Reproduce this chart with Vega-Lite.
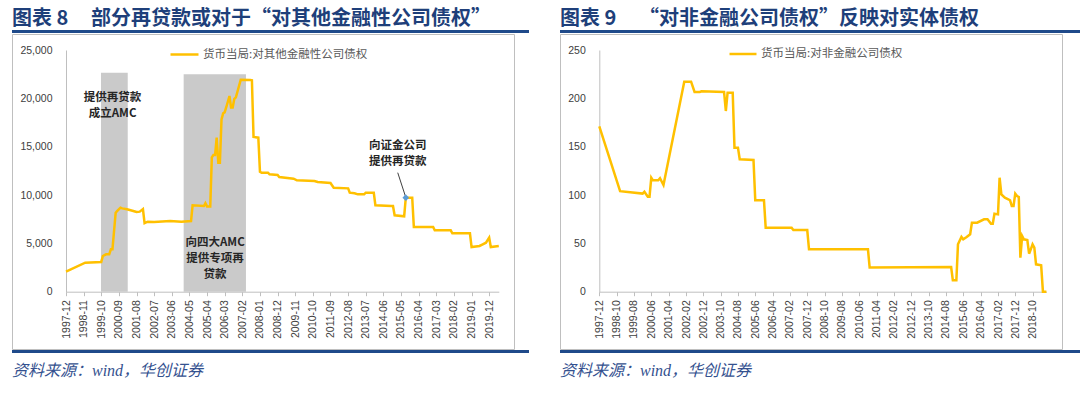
{
  "$schema": "https://vega.github.io/schema/vega-lite/v6.json",
  "background": "white",
  "padding": {"left": 11, "top": 9, "right": 0, "bottom": 0},
  "spacing": 30,
  "resolve": {"scale": {"color": "independent"}, "legend": {"color": "independent"}},
  "config": {
    "font": "Noto Sans CJK SC",
    "axis": {"labelFont": "Liberation Sans", "labelFontSize": 10.5, "labelColor": "#404040", "domainColor": "#BFBFBF", "tickColor": "#BFBFBF", "grid": false, "title": null}
  },
  "datasets": {
    "left": [
      {"d": "1997-12-01", "v": 2070}, {"d": "1998-12-01", "v": 3000}, {"d": "1999-10-01", "v": 3080},
      {"d": "1999-11-01", "v": 3690}, {"d": "2000-01-01", "v": 3870}, {"d": "2000-03-01", "v": 3870},
      {"d": "2000-04-01", "v": 4380}, {"d": "2000-05-01", "v": 4380}, {"d": "2000-07-01", "v": 8170},
      {"d": "2000-08-01", "v": 8350}, {"d": "2000-10-01", "v": 8690}, {"d": "2000-11-01", "v": 8620},
      {"d": "2001-02-01", "v": 8520}, {"d": "2001-06-01", "v": 8350}, {"d": "2001-08-01", "v": 8240},
      {"d": "2001-10-01", "v": 8280}, {"d": "2001-12-01", "v": 8550}, {"d": "2002-01-01", "v": 7100},
      {"d": "2002-03-01", "v": 7240}, {"d": "2002-07-01", "v": 7210}, {"d": "2003-05-01", "v": 7310},
      {"d": "2003-12-01", "v": 7240}, {"d": "2004-06-01", "v": 7310}, {"d": "2004-07-01", "v": 8930},
      {"d": "2005-02-01", "v": 8860}, {"d": "2005-03-01", "v": 9150}, {"d": "2005-04-01", "v": 8820},
      {"d": "2005-06-01", "v": 8820}, {"d": "2005-07-01", "v": 13900}, {"d": "2005-08-01", "v": 14140},
      {"d": "2005-09-01", "v": 14140}, {"d": "2005-10-01", "v": 15930}, {"d": "2005-11-01", "v": 13340},
      {"d": "2005-12-01", "v": 13340}, {"d": "2006-01-01", "v": 17830}, {"d": "2006-02-01", "v": 18450},
      {"d": "2006-03-01", "v": 18550}, {"d": "2006-04-01", "v": 19080}, {"d": "2006-06-01", "v": 20240},
      {"d": "2006-07-01", "v": 19050}, {"d": "2006-08-01", "v": 19050}, {"d": "2006-09-01", "v": 19950},
      {"d": "2006-10-01", "v": 20100}, {"d": "2007-01-01", "v": 21920}, {"d": "2007-07-01", "v": 21900},
      {"d": "2007-08-01", "v": 21870}, {"d": "2007-09-01", "v": 16000}, {"d": "2007-12-01", "v": 15930},
      {"d": "2008-01-01", "v": 12400}, {"d": "2008-02-01", "v": 12310}, {"d": "2008-06-01", "v": 12310},
      {"d": "2008-07-01", "v": 12140}, {"d": "2008-12-01", "v": 12070}, {"d": "2009-01-01", "v": 11860},
      {"d": "2009-10-01", "v": 11690}, {"d": "2009-12-01", "v": 11520}, {"d": "2010-11-01", "v": 11450},
      {"d": "2011-01-01", "v": 11350}, {"d": "2011-09-01", "v": 11240}, {"d": "2011-11-01", "v": 10760},
      {"d": "2012-08-01", "v": 10690}, {"d": "2012-09-01", "v": 10240}, {"d": "2012-12-01", "v": 10180},
      {"d": "2013-02-01", "v": 10070}, {"d": "2013-06-01", "v": 10070}, {"d": "2013-07-01", "v": 10240},
      {"d": "2013-12-01", "v": 10240}, {"d": "2014-01-01", "v": 8930}, {"d": "2014-11-01", "v": 8860},
      {"d": "2014-12-01", "v": 8860}, {"d": "2015-01-01", "v": 7900}, {"d": "2015-07-01", "v": 7800},
      {"d": "2015-08-01", "v": 9730}, {"d": "2015-12-01", "v": 9730}, {"d": "2016-01-01", "v": 6690},
      {"d": "2017-01-01", "v": 6690}, {"d": "2017-02-01", "v": 6350}, {"d": "2017-12-01", "v": 6350},
      {"d": "2018-01-01", "v": 6040}, {"d": "2018-12-01", "v": 6040}, {"d": "2019-01-01", "v": 4620},
      {"d": "2019-06-01", "v": 4730}, {"d": "2019-08-01", "v": 4900}, {"d": "2019-10-01", "v": 5070},
      {"d": "2019-12-01", "v": 5590}, {"d": "2020-01-01", "v": 4620}, {"d": "2020-06-01", "v": 4730}
    ],
    "right": [
      {"d": "1997-12-01", "v": 171}, {"d": "1998-12-01", "v": 104}, {"d": "2000-01-01", "v": 101.5},
      {"d": "2000-02-01", "v": 103.4}, {"d": "2000-04-01", "v": 98.3}, {"d": "2000-05-01", "v": 98.3},
      {"d": "2000-06-01", "v": 117.9}, {"d": "2000-07-01", "v": 115.2}, {"d": "2000-10-01", "v": 115.2},
      {"d": "2000-11-01", "v": 117.3}, {"d": "2001-01-01", "v": 110.4}, {"d": "2002-01-01", "v": 217.2},
      {"d": "2002-05-01", "v": 217.2}, {"d": "2002-07-01", "v": 206.6}, {"d": "2002-10-01", "v": 206.6},
      {"d": "2002-11-01", "v": 207.3}, {"d": "2003-12-01", "v": 206.6}, {"d": "2004-01-01", "v": 186.9},
      {"d": "2004-02-01", "v": 205.8}, {"d": "2004-05-01", "v": 205.8}, {"d": "2004-06-01", "v": 149},
      {"d": "2004-08-01", "v": 149}, {"d": "2004-09-01", "v": 137}, {"d": "2005-05-01", "v": 136.2},
      {"d": "2005-06-01", "v": 94.5}, {"d": "2005-11-01", "v": 94.5}, {"d": "2005-12-01", "v": 66.2},
      {"d": "2007-03-01", "v": 66.2}, {"d": "2007-04-01", "v": 63.8}, {"d": "2007-12-01", "v": 63.8},
      {"d": "2008-01-01", "v": 43.9}, {"d": "2010-11-01", "v": 43.9}, {"d": "2010-12-01", "v": 25},
      {"d": "2014-11-01", "v": 25.5}, {"d": "2014-12-01", "v": 11.8}, {"d": "2015-02-01", "v": 11.8},
      {"d": "2015-03-01", "v": 49}, {"d": "2015-05-01", "v": 56.6}, {"d": "2015-06-01", "v": 54.2},
      {"d": "2015-08-01", "v": 56.6}, {"d": "2015-10-01", "v": 59.4}, {"d": "2015-11-01", "v": 71.4},
      {"d": "2016-02-01", "v": 71.4}, {"d": "2016-06-01", "v": 74.9}, {"d": "2016-08-01", "v": 74.9},
      {"d": "2016-10-01", "v": 70.3}, {"d": "2016-11-01", "v": 70.3}, {"d": "2016-12-01", "v": 80.7},
      {"d": "2017-02-01", "v": 80}, {"d": "2017-03-01", "v": 117.9}, {"d": "2017-04-01", "v": 100.7},
      {"d": "2017-06-01", "v": 97.2}, {"d": "2017-08-01", "v": 95.6}, {"d": "2017-09-01", "v": 94.5},
      {"d": "2017-10-01", "v": 88.6}, {"d": "2017-11-01", "v": 88.6}, {"d": "2017-12-01", "v": 101.4},
      {"d": "2018-01-01", "v": 99}, {"d": "2018-02-01", "v": 97.9}, {"d": "2018-03-01", "v": 35.2},
      {"d": "2018-04-01", "v": 57.6}, {"d": "2018-05-01", "v": 54.2}, {"d": "2018-07-01", "v": 53.5},
      {"d": "2018-08-01", "v": 39.3}, {"d": "2018-09-01", "v": 44}, {"d": "2018-10-01", "v": 49},
      {"d": "2018-11-01", "v": 45.5}, {"d": "2018-12-01", "v": 28.3}, {"d": "2019-03-01", "v": 27.3},
      {"d": "2019-04-01", "v": 0}, {"d": "2019-06-01", "v": 0}
    ]
  },
  "hconcat": [
    {
      "spacing": 0,
      "resolve": {"scale": {"color": "independent"}, "legend": {"color": "independent"}},
      "vconcat": [
        {
          "width": 517, "height": 3,
          "view": {"fill": "#1F4A8A", "stroke": null},
          "data": {"values": []},
          "mark": "point",
          "title": {"text": "图表 8\u00a0\u00a0\u00a0\u00a0\u00a0部分再贷款或对于“对其他金融性公司债权”", "anchor": "start", "frame": "group", "offset": 1, "font": "Noto Sans CJK SC", "fontSize": 20, "fontWeight": "bold", "color": "#1E3F7A"}
        },
        {
          "width": 502, "height": 315,
          "view": {"stroke": "#BFBFBF", "strokeWidth": 1},
          "encoding": {
            "x": {"field": "d", "type": "temporal",
              "scale": {"domain": [{"year": 1997, "month": 12, "date": 1}, {"year": 2020, "month": 6, "date": 1}], "range": [54, 486.8]},
              "axis": {"orient": "bottom", "offset": -57.3, "format": "%Y-%m", "labelAngle": 270, "labelAlign": "right", "labelBaseline": "middle", "labelPadding": 4, "tickSize": 4, "labelOverlap": false, "labelFlush": false,
                "values": [{"year": 1997, "month": 12, "date": 1}, {"year": 1998, "month": 11, "date": 1}, {"year": 1999, "month": 10, "date": 1}, {"year": 2000, "month": 9, "date": 1}, {"year": 2001, "month": 8, "date": 1}, {"year": 2002, "month": 7, "date": 1}, {"year": 2003, "month": 6, "date": 1}, {"year": 2004, "month": 5, "date": 1}, {"year": 2005, "month": 4, "date": 1}, {"year": 2006, "month": 3, "date": 1}, {"year": 2007, "month": 2, "date": 1}, {"year": 2008, "month": 1, "date": 1}, {"year": 2008, "month": 12, "date": 1}, {"year": 2009, "month": 11, "date": 1}, {"year": 2010, "month": 10, "date": 1}, {"year": 2011, "month": 9, "date": 1}, {"year": 2012, "month": 8, "date": 1}, {"year": 2013, "month": 7, "date": 1}, {"year": 2014, "month": 6, "date": 1}, {"year": 2015, "month": 5, "date": 1}, {"year": 2016, "month": 4, "date": 1}, {"year": 2017, "month": 3, "date": 1}, {"year": 2018, "month": 2, "date": 1}, {"year": 2019, "month": 1, "date": 1}, {"year": 2019, "month": 12, "date": 1}]}},
            "y": {"field": "v", "type": "quantitative",
              "scale": {"domain": [0, 25000], "range": [257.7, 16], "nice": false},
              "axis": {"orient": "left", "offset": -54, "values": [0, 5000, 10000, 15000, 20000, 25000], "format": ",.0f", "ticks": false, "labelPadding": 14}}
          },
          "layer": [
            {
              "data": {"values": [{"d": "1999-09-26", "d2": "2001-02-15", "v": 22650}, {"d": "2004-01-13", "d2": "2007-04-10", "v": 22480}]},
              "mark": {"type": "rect", "color": "#CACACA"},
              "encoding": {"x2": {"field": "d2"}, "y2": {"datum": 0}}
            },
            {
              "data": {"name": "left"},
              "mark": {"type": "line", "strokeWidth": 2.5},
              "encoding": {"color": {"datum": "货币当局:对其他金融性公司债权", "scale": {"range": ["#FFC000"]},
                "legend": {"orient": "none", "legendX": 157, "legendY": 5, "title": null, "symbolType": "stroke", "symbolSize": 784, "symbolStrokeWidth": 2.5, "labelFontSize": 11.5, "labelFont": "Noto Sans CJK SC", "labelColor": "#595959", "labelOffset": 3, "labelLimit": 400}}}
            },
            {
              "data": {"values": [{"d": "2015-03-01", "v": 12310, "d2": "2015-08-03", "v2": 9720}]},
              "mark": {"type": "rule", "color": "#404040", "strokeWidth": 1},
              "encoding": {"x2": {"field": "d2"}, "y2": {"field": "v2"}}
            },
            {
              "data": {"values": [{"d": "2015-08-01", "v": 9730}]},
              "mark": {"type": "point", "shape": "diamond", "filled": true, "color": "#5B9BD5", "size": 45, "opacity": 1}
            },
            {
              "data": {"values": [{"d": "2000-05-04", "v": 20000, "t": "提供再贷款\n成立AMC"}, {"d": "2005-09-01", "v": 5070, "t": "向四大AMC\n提供专项再\n贷款"}, {"d": "2015-03-01", "v": 15070, "t": "向证金公司\n提供再贷款"}]},
              "mark": {"type": "text", "lineBreak": "\n", "font": "Noto Sans CJK SC", "fontSize": 11.5, "fontWeight": "bold", "color": "#262626", "lineHeight": 16, "baseline": "middle", "align": "center"},
              "encoding": {"text": {"field": "t"}}
            }
          ]
        },
        {
          "width": 517, "height": 3,
          "view": {"fill": "#1F4A8A", "stroke": null},
          "data": {"values": []},
          "mark": "point",
          "title": {"text": "资料来源：wind，华创证券", "orient": "bottom", "anchor": "start", "frame": "group", "offset": 10, "font": "Liberation Serif, Noto Sans CJK SC", "fontSize": 16, "fontStyle": "italic", "fontWeight": "normal", "color": "#34518F"}
        }
      ]
    },
    {
      "spacing": 0,
      "resolve": {"scale": {"color": "independent"}, "legend": {"color": "independent"}},
      "vconcat": [
        {
          "width": 522, "height": 3,
          "view": {"fill": "#1F4A8A", "stroke": null},
          "data": {"values": []},
          "mark": "point",
          "title": {"text": "图表 9\u00a0\u00a0\u00a0\u00a0\u00a0“对非金融公司债权”反映对实体债权", "anchor": "start", "frame": "group", "offset": 1, "font": "Noto Sans CJK SC", "fontSize": 20, "fontWeight": "bold", "color": "#1E3F7A"}
        },
        {
          "width": 502, "height": 315,
          "view": {"stroke": "#BFBFBF", "strokeWidth": 1},
          "data": {"name": "right"},
          "mark": {"type": "line", "strokeWidth": 2.5},
          "encoding": {
            "x": {"field": "d", "type": "temporal",
              "scale": {"domain": [{"year": 1997, "month": 12, "date": 1}, {"year": 2019, "month": 6, "date": 1}], "range": [39.3, 486.4]},
              "axis": {"orient": "bottom", "offset": -57.3, "format": "%Y-%m", "labelAngle": 270, "labelAlign": "right", "labelBaseline": "middle", "labelPadding": 4, "tickSize": 4, "labelOverlap": false, "labelFlush": false,
                "values": [{"year": 1997, "month": 12, "date": 1}, {"year": 1998, "month": 10, "date": 1}, {"year": 1999, "month": 8, "date": 1}, {"year": 2000, "month": 6, "date": 1}, {"year": 2001, "month": 4, "date": 1}, {"year": 2002, "month": 2, "date": 1}, {"year": 2002, "month": 12, "date": 1}, {"year": 2003, "month": 10, "date": 1}, {"year": 2004, "month": 8, "date": 1}, {"year": 2005, "month": 6, "date": 1}, {"year": 2006, "month": 4, "date": 1}, {"year": 2007, "month": 2, "date": 1}, {"year": 2007, "month": 12, "date": 1}, {"year": 2008, "month": 10, "date": 1}, {"year": 2009, "month": 8, "date": 1}, {"year": 2010, "month": 6, "date": 1}, {"year": 2011, "month": 4, "date": 1}, {"year": 2012, "month": 2, "date": 1}, {"year": 2012, "month": 12, "date": 1}, {"year": 2013, "month": 10, "date": 1}, {"year": 2014, "month": 8, "date": 1}, {"year": 2015, "month": 6, "date": 1}, {"year": 2016, "month": 4, "date": 1}, {"year": 2017, "month": 2, "date": 1}, {"year": 2017, "month": 12, "date": 1}, {"year": 2018, "month": 10, "date": 1}]}},
            "y": {"field": "v", "type": "quantitative",
              "scale": {"domain": [0, 250], "range": [257.7, 16], "nice": false},
              "axis": {"orient": "left", "offset": -39.3, "values": [0, 50, 100, 150, 200, 250], "ticks": false, "labelPadding": 14}},
            "color": {"datum": "货币当局:对非金融公司债权", "scale": {"range": ["#FFC000"]},
              "legend": {"orient": "none", "legendX": 168, "legendY": 5, "title": null, "symbolType": "stroke", "symbolSize": 729, "symbolStrokeWidth": 2.5, "labelFontSize": 11.5, "labelFont": "Noto Sans CJK SC", "labelColor": "#595959", "labelOffset": 3, "labelLimit": 400}}
          }
        },
        {
          "width": 522, "height": 3,
          "view": {"fill": "#1F4A8A", "stroke": null},
          "data": {"values": []},
          "mark": "point",
          "title": {"text": "资料来源：wind，华创证券", "orient": "bottom", "anchor": "start", "frame": "group", "offset": 10, "font": "Liberation Serif, Noto Sans CJK SC", "fontSize": 16, "fontStyle": "italic", "fontWeight": "normal", "color": "#34518F"}
        }
      ]
    }
  ]
}
